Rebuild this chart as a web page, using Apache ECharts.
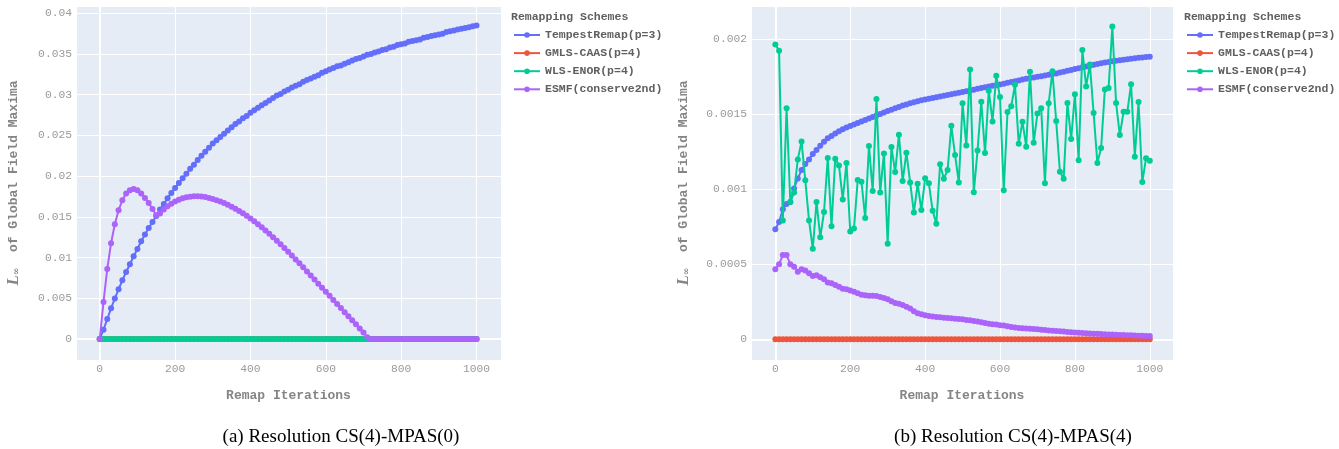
<!DOCTYPE html>
<html><head><meta charset="utf-8">
<script src="https://cdn.jsdelivr.net/npm/echarts@6/dist/echarts.min.js"></script>
<style>html,body{margin:0;padding:0;background:#fff}#c{width:1339px;height:449px}</style>
</head><body><div id="c"></div><script>
// x values: remap iterations
const iterations = [0,10,20,30,40,50,60,70,80,90,100,110,120,130,140,150,160,170,180,190,200,210,220,230,240,250,260,270,280,290,300,310,320,330,340,350,360,370,380,390,400,410,420,430,440,450,460,470,480,490,500,510,520,530,540,550,560,570,580,590,600,610,620,630,640,650,660,670,680,690,700,710,720,730,740,750,760,770,780,790,800,810,820,830,840,850,860,870,880,890,900,910,920,930,940,950,960,970,980,990,1000];

const seriesNames = ['TempestRemap(p=3)','GMLS-CAAS(p=4)','WLS-ENOR(p=4)','ESMF(conserve2nd)'];
const seriesColors = ['#636efa','#ef553b','#00cc96','#ab63fa'];

// (a) CS(4)-MPAS(0)
const aTempest = [0,0.00115,0.00246,0.00377,0.00496,0.00611,0.00721,0.00823,0.00918,0.01016,
0.01106,0.012,0.01282,0.01364,0.01437,0.01511,0.0159,0.01659,0.01728,0.01794,
0.01855,0.01916,0.01974,0.0203,0.0209,0.0214,0.022,0.0225,0.023,0.0235,
0.024,0.0244,0.0248,0.0252,0.0256,0.026,0.0264,0.0267,0.0271,0.0274,
0.0278,0.0281,0.0284,0.0287,0.029,0.0293,0.0296,0.0299,0.0301,0.0304,
0.0306,0.0309,0.0311,0.0313,0.0316,0.0318,0.032,0.0322,0.0324,0.0327,
0.0329,0.0331,0.0333,0.0335,0.0336,0.0338,0.034,0.0342,0.0344,0.0345,
0.0347,0.0349,0.035,0.0352,0.0353,0.0355,0.0356,0.0358,0.0359,0.0361,
0.0362,0.0363,0.0365,0.0366,0.0367,0.0368,0.037,0.0371,0.0372,0.0373,
0.0374,0.0375,0.0377,0.0378,0.0379,0.038,0.0381,0.0382,0.0383,0.0384,
0.0385];
const aGmls = [0,0,0,0,0,0,0,0,0,0,0,0,0,0,0,0,0,0,0,0,0,0,0,0,0,0,0,0,0,0,0,0,0,0,0,0,0,0,0,0,0,0,0,0,0,0,0,0,0,0,0,0,0,0,0,0,0,0,0,0,0,0,0,0,0,0,0,0,0,0,0,0,0,0,0,0,0,0,0,0,0,0,0,0,0,0,0,0,0,0,0,0,0,0,0,0,0,0,0,0,0];
const aWls = [0,0,0,0,0,0,0,0,0,0,0,0,0,0,0,0,0,0,0,0,0,0,0,0,0,0,0,0,0,0,0,0,0,0,0,0,0,0,0,0,0,0,0,0,0,0,0,0,0,0,0,0,0,0,0,0,0,0,0,0,0,0,0,0,0,0,0,0,0,0,0,0,0,0,0,0,0,0,0,0,0,0,0,0,0,0,0,0,0,0,0,0,0,0,0,0,0,0,0,0,0];
const aEsmf = [0,0.00455,0.0086,0.01176,0.01409,0.01581,0.01704,0.01786,0.01827,0.01843,
0.01827,0.01786,0.01732,0.01671,0.01597,0.0152,0.0154,0.0159,0.0163,0.0166,
0.0169,0.0171,0.0173,0.0174,0.01748,0.01752,0.01753,0.0175,0.01743,0.01733,
0.0172,0.01705,0.01688,0.01669,0.01648,0.01625,0.016,0.01573,0.01544,0.01513,
0.0148,0.01446,0.0141,0.01372,0.01333,0.01292,0.0125,0.01207,0.01163,0.01118,
0.01072,0.01025,0.00977,0.00929,0.0088,0.0083,0.0078,0.0073,0.0068,0.0063,
0.0058,0.0053,0.0048,0.0043,0.0038,0.0033,0.0028,0.0023,0.0018,0.0013,
0.0008,0.0002,0,0,0,0,0,0,0,0,
0,0,0,0,0,0,0,0,0,0,
0,0,0,0,0,0,0,0,0,0,
0];

// (b) CS(4)-MPAS(4)
const bTempest = [0.000732,0.00078,0.000865,0.0009,0.000914,0.001004,0.00107,0.001126,0.001166,0.001197,
0.001233,0.00126,0.001288,0.001315,0.001337,0.001353,0.00137,0.001385,0.001398,0.001409,
0.001419,0.00143,0.00144,0.00145,0.00146,0.00147,0.00148,0.00149,0.0015,0.00151,
0.001519,0.001528,0.001537,0.001546,0.001555,0.001563,0.00157,0.001577,0.001584,0.00159,
0.001596,0.001601,0.001606,0.001611,0.001616,0.001621,0.001626,0.001631,0.001636,0.00164,
0.001645,0.00165,0.001656,0.001661,0.001667,0.001672,0.001677,0.001682,0.001687,0.001691,
0.001696,0.001701,0.001707,0.001712,0.001718,0.001723,0.001728,0.001733,0.001738,0.001742,
0.001747,0.001751,0.001756,0.00176,0.001765,0.001769,0.001775,0.001781,0.001787,0.001792,
0.001798,0.001804,0.00181,0.001816,0.001821,0.001827,0.001832,0.001837,0.001842,0.001846,
0.001851,0.001854,0.001857,0.00186,0.001864,0.001867,0.00187,0.001873,0.001876,0.001878,
0.00188];
const bGmls = [0,0,0,0,0,0,0,0,0,0,0,0,0,0,0,0,0,0,0,0,0,0,0,0,0,0,0,0,0,0,0,0,0,0,0,0,0,0,0,0,0,0,0,0,0,0,0,0,0,0,0,0,0,0,0,0,0,0,0,0,0,0,0,0,0,0,0,0,0,0,0,0,0,0,0,0,0,0,0,0,0,0,0,0,0,0,0,0,0,0,0,0,0,0,0,0,0,0,0,0,0];
const bWls = [0.001962,0.00192,0.00079,0.001537,0.000914,0.000976,0.001197,0.001317,0.001058,0.00079,
0.000603,0.000914,0.000679,0.000847,0.001206,0.000752,0.001202,0.001157,0.000931,0.001173,
0.000718,0.000738,0.00106,0.001049,0.000807,0.001286,0.000987,0.001599,0.000976,0.001237,
0.000636,0.00128,0.001113,0.001361,0.001053,0.001242,0.001044,0.000843,0.001035,0.00086,
0.001071,0.001038,0.000856,0.000769,0.001164,0.001069,0.001126,0.001421,0.001226,0.001044,
0.00157,0.00129,0.001796,0.000978,0.001257,0.001581,0.001239,0.001654,0.00145,0.001754,
0.001612,0.000991,0.001512,0.00155,0.001694,0.001302,0.001448,0.001282,0.00178,0.001308,
0.001503,0.001537,0.001038,0.00157,0.001783,0.001452,0.001115,0.001069,0.001572,0.001333,
0.00163,0.001191,0.001925,0.001683,0.001829,0.001506,0.001173,0.001273,0.001663,0.001672,
0.002082,0.001572,0.001359,0.001514,0.001514,0.001698,0.001215,0.001579,0.001047,0.001204,
0.001188];
const bEsmf = [0.000466,0.0005,0.00056,0.00056,0.0005,0.000483,0.00045,0.000466,0.000457,0.000439,
0.000421,0.000426,0.000412,0.000399,0.000377,0.000373,0.000361,0.00035,0.000337,0.000333,
0.000324,0.000317,0.000306,0.000297,0.000293,0.00029,0.00029,0.000288,0.000282,0.000275,
0.000266,0.000253,0.000242,0.000237,0.000228,0.000217,0.000204,0.000186,0.000173,0.000166,
0.00016,0.000155,0.000151,0.000149,0.000146,0.000144,0.000142,0.00014,0.000137,0.000135,
0.000133,0.000129,0.000126,0.000122,0.000118,0.000113,0.000109,0.000104,0.0001,0.000098,
0.000093,0.000091,0.000086,0.000082,0.000078,0.000075,0.000073,0.000071,0.00007,0.000068,
0.000066,0.000063,0.000061,0.000059,0.000057,0.000055,0.000053,0.000051,0.000049,0.000047,
0.000045,0.000043,0.000042,0.00004,0.000039,0.000037,0.000036,0.000035,0.000033,0.000032,
0.000031,0.00003,0.000029,0.000028,0.000027,0.000026,0.000025,0.000024,0.000023,0.000022,
0.000021];

const xTickStep = 200;
const aTickStep = 0.005;
const bTickStep = 0.0005;
const yTitle = '{l|L}{i|\u221e}  of Global Field Maxima';
const xTitle = 'Remap Iterations';
const legendTitle = 'Remapping Schemes';
const captions = ['(a) Resolution CS(4)-MPAS(0)', '(b) Resolution CS(4)-MPAS(4)'];

const MONO = '"Liberation Mono", "Courier New", monospace';
function fmt(step){
  return function(v){
    const r = v / step;
    if (Math.abs(r - Math.round(r)) > 1e-6) return '';
    const n = Math.round(r) * step;
    if (Math.abs(n) < 1e-12) return '0';
    return String(parseFloat(n.toPrecision(6)));
  };
}
function pairs(ys){ return iterations.map((x, i) => [x, ys[i]]); }

const tickLabel = {color:'#9a9a9a', fontFamily:MONO, fontSize:11.3};
const titleStyle = {color:'#858585', fontFamily:MONO, fontSize:13, fontWeight:'bold'};
function xAx(idx, min, max){
  return {type:'value', gridIndex:idx, min:min, max:max, splitNumber:6,
    axisLine:{show:false}, axisTick:{show:false},
    axisLabel:Object.assign({formatter:fmt(xTickStep), margin:4}, tickLabel),
    splitLine:{show:true, lineStyle:{color:'#ffffff', width:1}},
    name:xTitle, nameLocation:'middle', nameGap:29, nameTextStyle:titleStyle};
}
function yAx(idx, min, max, step, split, gap){
  return {type:'value', gridIndex:idx, min:min, max:max, splitNumber:split,
    axisLine:{show:false}, axisTick:{show:false},
    axisLabel:Object.assign({formatter:fmt(step), margin:4}, tickLabel),
    splitLine:{show:true, lineStyle:{color:'#ffffff', width:1}},
    name:yTitle, nameLocation:'middle', nameGap:gap,
    nameTextStyle:Object.assign({}, titleStyle, {rich:{
      l:{fontFamily:'"Liberation Serif", serif', fontStyle:'italic', fontSize:17, color:'#858585'},
      i:{fontFamily:'"DejaVu Serif", serif', fontSize:9, color:'#858585', padding:[7,0,0,0]}
    }})};
}
const allData = [[aTempest,aGmls,aWls,aEsmf],[bTempest,bGmls,bWls,bEsmf]];
const series = [];
allData.forEach((grp, gi) => grp.forEach((ys, si) => {
  const s = {name:seriesNames[si], type:'line', xAxisIndex:gi, yAxisIndex:gi,
    data:pairs(ys), symbol:'circle', symbolSize:6, showAllSymbol:true,
    lineStyle:{width:2, color:seriesColors[si]}, itemStyle:{color:seriesColors[si]},
    emphasis:{disabled:true}, z:2+si};
  if (si === 0) {
    s.markLine = {z:1, silent:true, symbol:'none', animation:false,
      label:{show:false}, lineStyle:{color:'#ffffff', width:2, type:'solid'},
      emphasis:{disabled:true}, data:[{xAxis:0}, {yAxis:0}]};
  }
  series.push(s);
}));
function legend(left){
  return {left:left, top:28, padding:0, orient:'vertical', itemWidth:26, itemHeight:7, itemGap:4.1,
    data:seriesNames, selectedMode:false,
    textStyle:{color:'#5f5f5f', fontFamily:MONO, fontSize:11.5, fontWeight:'bold', lineHeight:14}};
}
function gtext(x, y, text, style, align){
  return {type:'text', x:x, y:y, silent:true, style:Object.assign({text:text, align:align||'left', verticalAlign:'middle'}, style)};
}
const legTitleStyle = {fill:'#5f5f5f', fontFamily:MONO, fontSize:11.5, fontWeight:'bold'};
const capStyle = {fill:'#000', fontFamily:'"Liberation Serif", "Times New Roman", serif', fontSize:19};

const chart = echarts.init(document.getElementById('c'), null, {renderer:'canvas'});
chart.setOption({
  animation:false,
  backgroundColor:'#ffffff',
  grid:[
    {left:76, top:6, width:425, height:354, show:true, backgroundColor:'#e5ecf6', borderWidth:0, containLabel:false, outerBoundsMode:'none'},
    {left:751, top:6, width:422, height:354, show:true, backgroundColor:'#e5ecf6', borderWidth:0, containLabel:false, outerBoundsMode:'none'}
  ],
  xAxis:[xAx(0, -63, 1065), xAx(1, -65, 1062)],
  yAxis:[yAx(0, -0.00258, 0.0409, aTickStep, 8, 54), yAx(1, -0.000138, 0.002218, bTickStep, 5, 59)],
  legend:[legend(513), legend(1186)],
  graphic:[
    gtext(511, 17, legendTitle, legTitleStyle),
    gtext(1184, 17, legendTitle, legTitleStyle),
    gtext(341, 437, captions[0], capStyle, 'center'),
    gtext(1013, 437, captions[1], capStyle, 'center')
  ],
  series:series
});
</script></body></html>
